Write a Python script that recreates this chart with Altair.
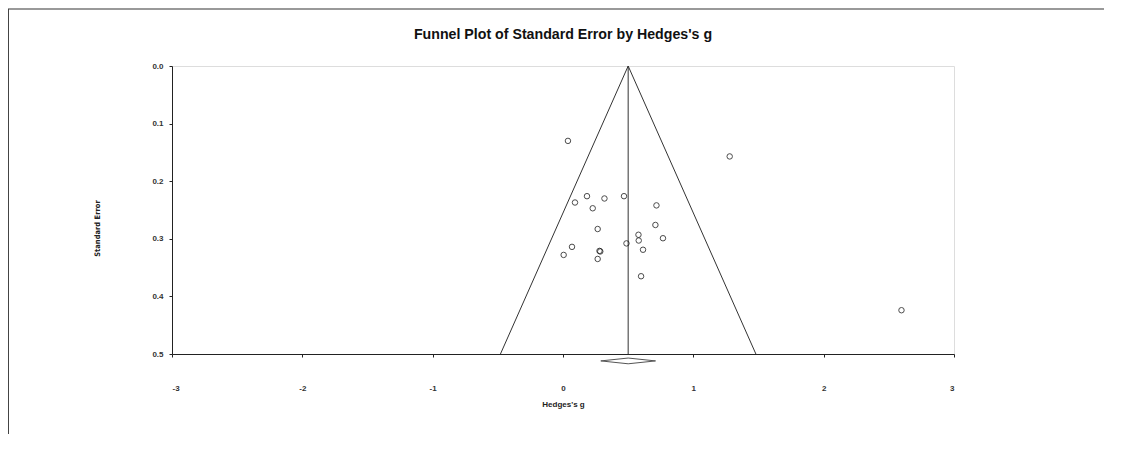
import altair as alt
import pandas as pd

# Study effect sizes (Hedges's g) and standard errors
g_values = [0.038, 0.184, 0.092, 0.318, 0.468, 0.228, 0.717, 0.266, 0.709, 0.579,
            0.767, 0.581, 0.487, 0.069, 0.614, 0.280, 0.286, 0.005, 0.266, 0.599,
            1.279, 2.597]
se_values = [0.130, 0.226, 0.237, 0.230, 0.226, 0.247, 0.242, 0.283, 0.276, 0.293,
             0.299, 0.303, 0.308, 0.314, 0.319, 0.321, 0.322, 0.328, 0.335, 0.365,
             0.157, 0.424]

# Funnel (pseudo 95% limits) and mean line
funnel_side = ["left", "left", "right", "right", "mean", "mean"]
funnel_g = [0.50, -0.48, 0.50, 1.48, 0.50, 0.50]
funnel_se = [0.0, 0.5, 0.0, 0.5, 0.0, 0.5]

# Summary diamond (combined effect and CI) drawn below the axis
diamond_g = [0.29, 0.50, 0.71, 0.50, 0.29]
diamond_se = [0.512, 0.507, 0.512, 0.517, 0.512]
diamond_order = [0, 1, 2, 3, 4]

x_ticks = [-3, -2, -1, 0, 1, 2, 3]
y_ticks = [0.0, 0.1, 0.2, 0.3, 0.4, 0.5]

title_text = "Funnel Plot of Standard Error by Hedges's g"

pts = pd.DataFrame({"g": g_values, "se": se_values})
funnel = pd.DataFrame({"side": funnel_side, "g": funnel_g, "se": funnel_se})
diamond = pd.DataFrame({"g": diamond_g, "se": diamond_se, "o": diamond_order})

FONT = "Liberation Sans"

xscale = alt.Scale(domain=[-3, 3], nice=False, zero=False)
yscale = alt.Scale(domain=[0, 0.5], nice=False, zero=False, reverse=True)

xaxis = alt.Axis(values=x_ticks, title="Hedges's g", grid=False,
                 labelExpr="'' + datum.value", tickSize=3, labelPadding=27,
                 titlePadding=8, labelFontSize=8, titleFontSize=8,
                 labelFont=FONT, titleFont=FONT, labelFontWeight="bold",
                 titleFontWeight="bold", domainColor="#222", tickColor="#222",
                 labelColor="#333", titleColor="#222")
yaxis = alt.Axis(values=y_ticks, title="Standard Error", grid=False, format=".1f",
                 tickSize=3, labelPadding=6, titlePadding=50, labelFontSize=8,
                 titleFontSize=7.5, labelFont=FONT, titleFont="DejaVu Sans Condensed",
                 labelFontWeight="bold", titleFontWeight="bold", domainColor="#222",
                 tickColor="#222", labelColor="#333", titleColor="#222",
                 titleY=162)

lines = alt.Chart(funnel).mark_line(color="#333", strokeWidth=1).encode(
    x=alt.X("g:Q", scale=xscale, axis=xaxis),
    y=alt.Y("se:Q", scale=yscale, axis=yaxis),
    detail="side:N",
)

points = alt.Chart(pts).mark_point(shape="circle", filled=False, color="black",
                                   size=30, strokeWidth=1).encode(
    x=alt.X("g:Q", scale=xscale),
    y=alt.Y("se:Q", scale=yscale),
)

diam = alt.Chart(diamond).mark_line(color="#555", strokeWidth=1).encode(
    x=alt.X("g:Q", scale=xscale),
    y=alt.Y("se:Q", scale=yscale),
    order="o:Q",
)

one = pd.DataFrame({"a": [0]})
title_mark = alt.Chart(one).mark_text(
    text=title_text, font=FONT, fontSize=14.2, fontWeight="bold", color="#111",
    align="center", baseline="middle").encode(x=alt.value(391), y=alt.value(-31))

frame_top = alt.Chart(one).mark_rule(color="#999", strokeWidth=2).encode(
    x=alt.value(-164), x2=alt.value(941), y=alt.value(-57))
frame_left = alt.Chart(one).mark_rule(color="#444", strokeWidth=1).encode(
    x=alt.value(-163.5), y=alt.value(-57), y2=alt.value(375))

chart = alt.layer(lines, diam, points, title_mark, frame_top, frame_left).properties(
    width=782, height=288,
    autosize=alt.AutoSizeParams(type="none"),
    padding={"left": 164, "top": 58, "right": 150, "bottom": 80},
).configure_view(stroke="#222", strokeWidth=1).configure(background="white")

chart.save("out.html", embed_options={"renderer": "svg", "actions": False})
